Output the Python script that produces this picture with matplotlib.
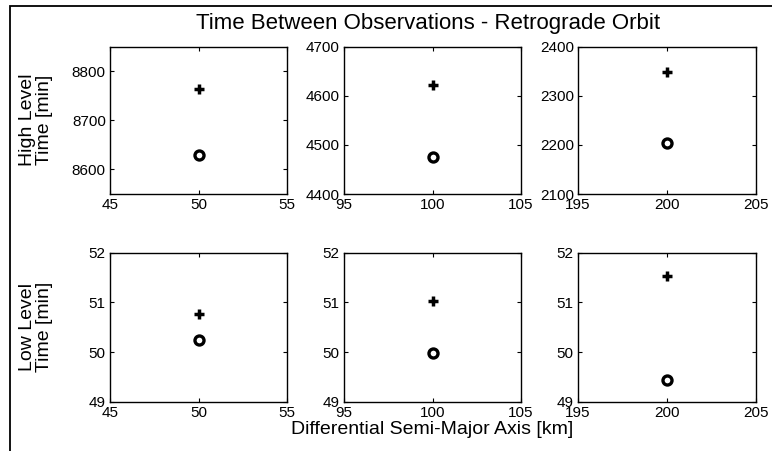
import matplotlib
matplotlib.use("Agg")
import matplotlib.pyplot as plt
from matplotlib.patches import Rectangle

plt.rcParams['font.family'] = ['Liberation Sans', 'DejaVu Sans']

# differential semi-major axis for each column [km]
dsma = [50, 100, 200]
xlims = [(45, 55), (95, 105), (195, 205)]

# high level time [min]
high_plus = [8763, 4622, 2349]
high_circ = [8629, 4475, 2203]
high_ylims = [(8550, 8850), (4400, 4700), (2100, 2400)]
high_ticks = [[8600, 8700, 8800], [4400, 4500, 4600, 4700], [2100, 2200, 2300, 2400]]

# low level time [min]
low_plus = [50.76, 51.03, 51.53]
low_circ = [50.24, 49.99, 49.44]
low_ylim = (49, 52)
low_ticks = [49, 50, 51, 52]

W, H = 772, 451
fig = plt.figure(figsize=(W / 100, H / 100), dpi=100)

# frame around the figure (cut off at right and bottom)
fig.patches.append(Rectangle((9.5 / W, -0.1), 1.2, 1 - 6 / H + 0.1,
                             transform=fig.transFigure, fill=False,
                             edgecolor='black', linewidth=1.3))

lefts = [110, 344, 578]
rights = [287, 521, 756]
rows = [(46.7, 194), (252.7, 401.7)]


def make_ax(col, row):
    l, r = lefts[col], rights[col]
    t, b = rows[row]
    ax = fig.add_axes([l / W, 1 - b / H, (r - l) / W, (b - t) / H])
    ax.tick_params(direction='in', top=True, right=True, length=3,
                   width=0.8, labelsize=11, pad=3)
    for s in ax.spines.values():
        s.set_linewidth(1.0)
    return ax


for i in range(3):
    ax = make_ax(i, 0)
    ax.plot(dsma[i], high_plus[i], '+', color='black', ms=7.5, mew=2.5)
    ax.plot(dsma[i], high_circ[i], 'o', color='black', mfc='none', ms=6.5, mew=2.4)
    ax.set_xlim(*xlims[i])
    ax.set_ylim(*high_ylims[i])
    ax.set_xticks([xlims[i][0], dsma[i], xlims[i][1]])
    ax.set_yticks(high_ticks[i])

    ax = make_ax(i, 1)
    ax.plot(dsma[i], low_plus[i], '+', color='black', ms=7.5, mew=2.5)
    ax.plot(dsma[i], low_circ[i], 'o', color='black', mfc='none', ms=6.5, mew=2.4)
    ax.set_xlim(*xlims[i])
    ax.set_ylim(*low_ylim)
    ax.set_xticks([xlims[i][0], dsma[i], xlims[i][1]])
    ax.set_yticks(low_ticks)
    if i == 1:
        ax.set_xlabel('Differential Semi-Major Axis [km]', fontsize=14, labelpad=1)

# row labels
fig.text(36 / W, 1 - 120 / H, 'High Level\nTime [min]', rotation=90,
         ha='center', va='center', fontsize=14, linespacing=1.0)
fig.text(36 / W, 1 - 327 / H, 'Low Level\nTime [min]', rotation=90,
         ha='center', va='center', fontsize=14, linespacing=1.0)

fig.text(428 / W, 1 - 23 / H, 'Time Between Observations - Retrograde Orbit',
         ha='center', va='center', fontsize=16)

fig.savefig('out.png', dpi=100)
